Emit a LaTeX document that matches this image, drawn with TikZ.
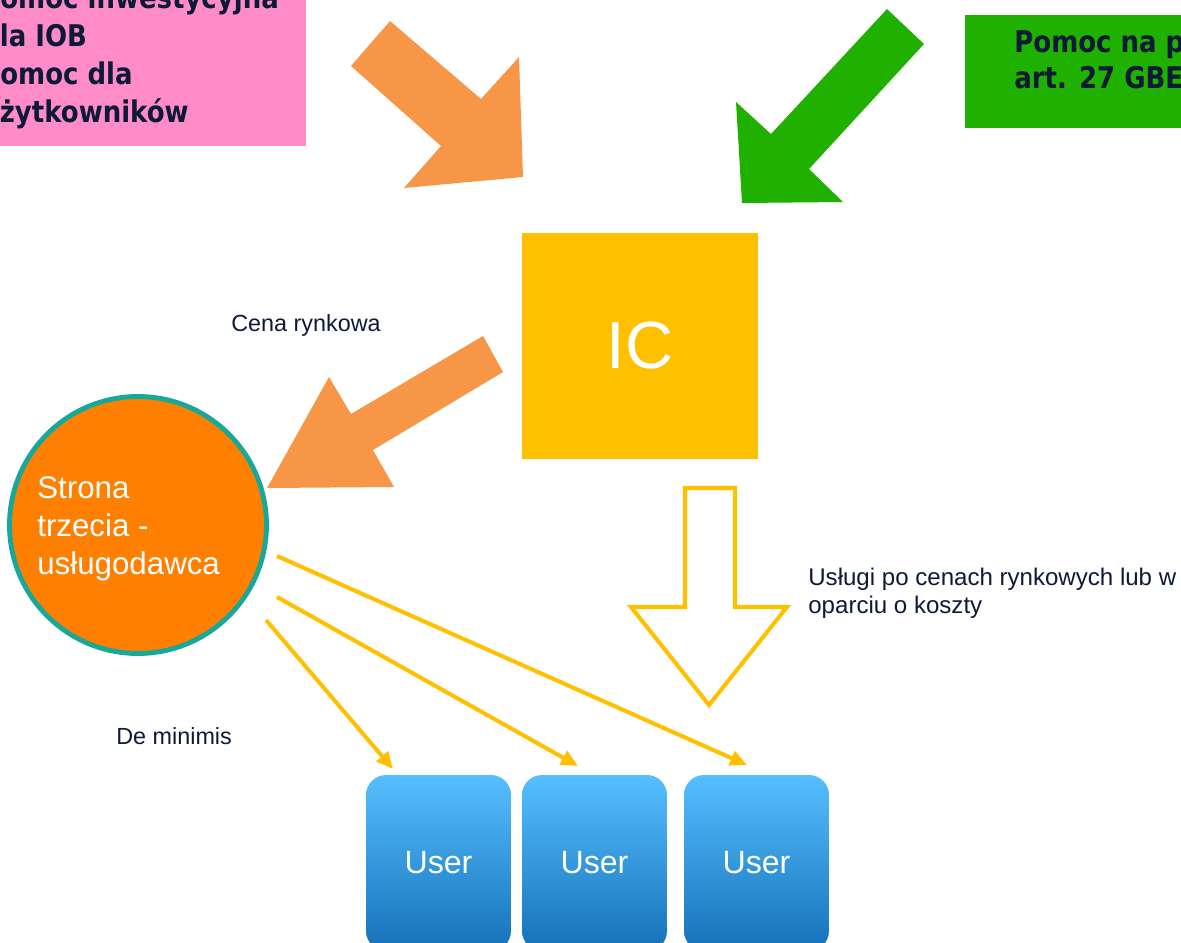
\documentclass[tikz,border=0pt]{standalone}
\usepackage{fontspec}
\setmainfont{Liberation Sans}
\newfontfamily\boxfont[FakeStretch=0.87]{DejaVu Sans}
\usepackage{tikz}
\usetikzlibrary{arrows.meta}

\definecolor{navy}{HTML}{0C1A38}
\definecolor{amber}{HTML}{FFC000}
\definecolor{peach}{HTML}{F79646}
\definecolor{leaf}{HTML}{20B000}
\definecolor{pink}{HTML}{FF8BC8}
\definecolor{tangerine}{HTML}{FF8000}
\definecolor{teal}{HTML}{17A89A}
\definecolor{sky}{HTML}{56BFFF}
\definecolor{deepsky}{HTML}{1571B8}

\tikzset{
	caption/.style={text=navy, font=\fontsize{13.3}{15.4}\selectfont, inner sep=0pt, anchor=base west, align=left},
	aidbox/.style={text=navy, font=\boxfont\bfseries\fontsize{17}{21.5}\selectfont, inner sep=0pt, anchor=base west, align=left},
	link/.style={draw=amber, line width=2.3pt, -{Triangle[length=9.6pt,width=8.5pt]}},
	user/.style={rounded corners=0.4cm, top color=sky, bottom color=deepsky, text=white,
		minimum width=2.9cm, minimum height=3.52cm, font=\fontsize{18.3}{20}\selectfont}
}

\begin{document}
\begin{tikzpicture}[x=0.02cm, y=-0.02cm]
	\useasboundingbox (0,0) rectangle (1181,943);
	\clip (0,0) rectangle (1181,943);

	% aid boxes at the top
	\fill[pink] (-20,-20) rectangle (306,146);
	\node[aidbox] (invest) at (-19,122) {Pomoc inwestycyjna\\dla IOB\\Pomoc dla\\użytkowników};
	\fill[leaf] (965,15) rectangle (1200,128);
	\node[aidbox, font=\boxfont\bfseries\fontsize{17}{20.4}\selectfont] (gber) at (1014,88) {Pomoc na podstawie\\art. 27 GBER};

	% block arrows into IC
	\fill[peach] (390,21) -- (351,66) -- (441,146) -- (404,188)
		-- (523,177) -- (519,57) -- (481,99) -- cycle;
	\fill[leaf] (887,9) -- (924,44) -- (809,169) -- (843,202)
		-- (742,203) -- (736,102) -- (771,134) -- cycle;

	\node[fill=amber, minimum width=4.72cm, minimum height=4.52cm, text=white,
		font=\fontsize{38}{40}\selectfont] (ic) at (640,346) {IC};

	% IC -> third party
	\node[caption] (market) at (231,331) {Cena rynkowa};
	\fill[peach] (483,336) -- (503,372) -- (373,450) -- (394,487)
		-- (267,488) -- (329,377) -- (351,414) -- cycle;

	\node[circle, fill=tangerine, draw=teal, line width=2.8pt, minimum size=5.14cm] (party) at (138,525) {};
	\node[anchor=base west, inner sep=0pt, text=white, align=left,
		font=\fontsize{17.8}{21.5}\selectfont] (partytext) at (37,574) {Strona\\trzecia -\\usługodawca};

	% IC -> users
	\draw[amber, line width=2.3pt] (685,488) -- (735,488) -- (735,607) -- (787,607)
		-- (709,705) -- (631,607) -- (685,607) -- cycle;
	\node[caption, font=\fontsize{13.7}{15.4}\selectfont] (services) at (808,613) {Usługi po cenach rynkowych lub w\\oparciu o koszty};

	\node[user] (user1) at (438.5,863) {User};
	\node[user] (user2) at (594.5,863) {User};
	\node[user] (user3) at (756.5,863) {User};

	% de minimis links
	\node[caption] (deminimis) at (116,744) {De minimis};
	\coordinate (from1) at (266,620);
	\coordinate (from2) at (277,597);
	\coordinate (from3) at (277,556);
	\coordinate (to1) at (393,769);
	\coordinate (to2) at (578,766);
	\coordinate (to3) at (747,765);
	\draw[link] (from1) -- (to1);
	\draw[link] (from2) -- (to2);
	\draw[link] (from3) -- (to3);
\end{tikzpicture}
\end{document}
